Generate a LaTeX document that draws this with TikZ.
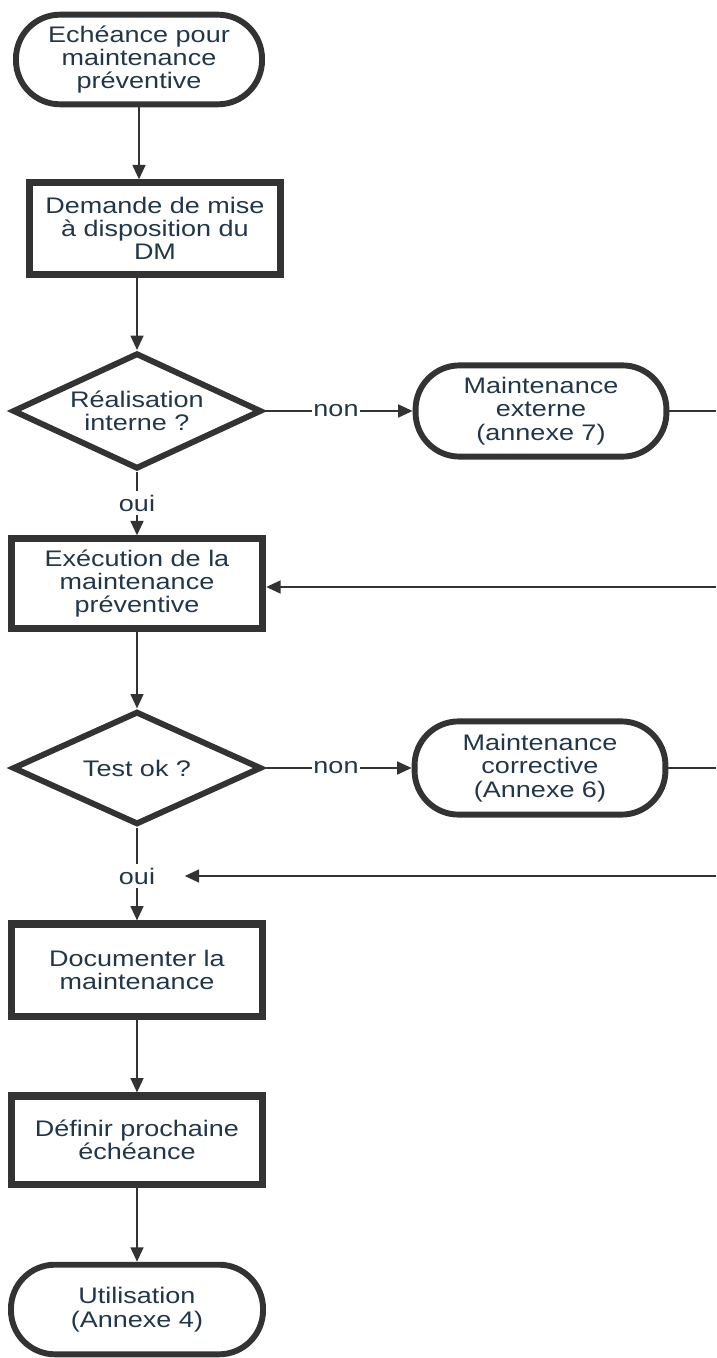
\documentclass[tikz,border=0pt]{standalone}
\usepackage{fontspec}
\setmainfont{Liberation Sans}[FakeStretch=1.2]
\usetikzlibrary{shapes.geometric,arrows.meta,calc}
\definecolor{ink}{HTML}{22364A}
\definecolor{edgec}{HTML}{333333}
\begin{document}
\begin{tikzpicture}[x=0.025cm,y=-0.025cm,
  every node/.style={font=\fontsize{16}{16.6}\selectfont, text=ink, align=center},
  terminal/.style={draw=edgec, line width=4.2pt, rounded corners=1.1cm, inner sep=0pt},
  procbox/.style={draw=edgec, line width=5pt, inner sep=0pt},
  decision/.style={draw=edgec, line width=4.2pt, diamond, aspect=2, inner sep=0pt},
  lbl/.style={inner xsep=1pt, inner ysep=2.5pt},
  conn/.style={draw=edgec, line width=1.5pt},
  arr/.style={conn, -{Triangle[length=0.36cm,width=0.32cm]}}
]
\useasboundingbox (0,0) rectangle (716,1358);

\node[terminal, minimum width=6.15cm, minimum height=2.24cm] (t1) at (139,59.5) {Echéance pour\\maintenance\\préventive};
\node[procbox, minimum width=6.28cm, minimum height=2.28cm] (b1) at (155,228.5) {Demande de mise\\à disposition du\\DM};
\node[decision, minimum width=6.22cm, minimum height=2.9cm] (d1) at (137,411) {Réalisation\\interne ?};
\node[lbl] (non1) at (336,411) {non};
\node[terminal, minimum width=6.27cm, minimum height=2.28cm] (ext) at (541,411) {Maintenance\\externe\\(annexe 7)};
\node[lbl] (oui1) at (137,503) {oui};
\node[procbox, minimum width=6.28cm, minimum height=2.23cm] (b2) at (137,583.5) {Exécution de la\\maintenance\\préventive};
\node[decision, minimum width=6.22cm, minimum height=2.83cm] (d2) at (137,768) {Test ok ?};
\node[lbl] (non2) at (336,768) {non};
\node[terminal, minimum width=6.27cm, minimum height=2.33cm] (corr) at (540,768) {Maintenance\\corrective\\(Annexe 6)};
\node[lbl] (oui2) at (137,876) {oui};
\node[procbox, minimum width=6.28cm, minimum height=2.3cm] (b3) at (137,970) {Documenter la\\maintenance};
\node[procbox, minimum width=6.28cm, minimum height=2.2cm] (b4) at (137,1140) {Définir prochaine\\échéance};
\node[terminal, minimum width=6.3cm, minimum height=2.24cm] (t2) at (137,1309.5) {Utilisation\\(Annexe 4)};

\coordinate (r1) at (716,411);
\coordinate (r1b) at (716,587);
\coordinate (r2) at (716,768);
\coordinate (r2b) at (716,876);

\draw[arr] (t1.south) -- (t1.south |- b1.north);
\draw[arr] (d1.north |- b1.south) -- (d1.north);
\draw[conn] (d1.east) -- (non1.west);
\draw[arr] (non1.east) -- (ext.west);
\draw[conn] (ext.east) -- (r1);
\draw[conn] (d1.south) -- (oui1.north);
\draw[arr] (oui1.south) -- (b2.north);
\draw[arr] (r1b) -- (r1b -| b2.east);
\draw[arr] (b2.south) -- (d2.north);
\draw[conn] (d2.east) -- (non2.west);
\draw[arr] (non2.east) -- (corr.west);
\draw[conn] (corr.east) -- (r2);
\draw[conn] (d2.south) -- (oui2.north);
\draw[arr, shorten >=0.7cm] (r2b) -- (oui2.east);
\draw[arr] (oui2.south) -- (b3.north);
\draw[arr] (b3.south) -- (b4.north);
\draw[arr] (b4.south) -- (t2.north);
\end{tikzpicture}
\end{document}
